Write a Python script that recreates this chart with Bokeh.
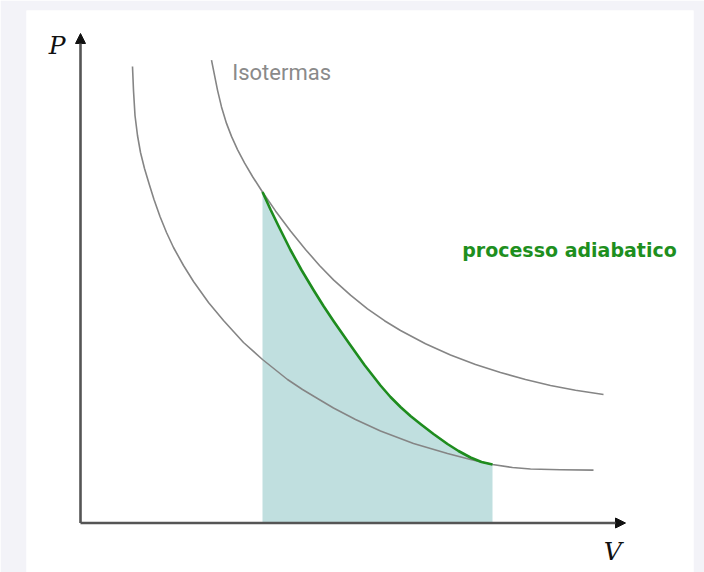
from bokeh.plotting import figure
from bokeh.models import Range1d, Arrow, NormalHead, Label
from bokeh.embed import file_html
from bokeh.resources import INLINE

# ---- data (arbitrary V/P units) ----
iso_low_V = [5.2, 5.3, 5.45, 5.7, 6.0, 6.4, 6.85, 7.35, 7.95, 8.6, 9.3, 10.3, 11.3, 12.8,
             14.3, 16.3, 18.2, 20.7, 22.2, 23.7, 25.3, 27.5, 30.0, 33.3, 36.7, 39.0, 41.2,
             43.2, 45.0, 48.0, 51.3]
iso_low_P = [45.65, 43.25, 40.75, 38.75, 37.05, 35.45, 33.95, 32.35, 30.65, 29.05, 27.55,
             25.75, 24.15, 22.05, 20.25, 18.05, 16.35, 14.35, 13.35, 12.45, 11.5, 10.35,
             9.2, 7.95, 6.95, 6.35, 5.85, 5.55, 5.4, 5.32, 5.29]

iso_high_V = [13.1, 13.4, 13.7, 14.1, 14.6, 15.1, 15.7, 16.4, 17.2, 18.2, 19.5, 21.0, 22.5,
              23.9, 25.3, 27.0, 28.7, 30.4, 32.0, 34.5, 37.0, 39.5, 42.0, 44.5, 47.0, 49.5,
              52.3]
iso_high_P = [46.29, 44.79, 43.29, 41.61, 39.96, 38.66, 37.34, 36.01, 34.65, 33.1, 31.21,
              29.19, 27.36, 25.75, 24.31, 22.78, 21.42, 20.23, 19.25, 17.92, 16.8, 15.85,
              15.05, 14.35, 13.75, 13.27, 12.85]

adiab_V = [18.2, 19.0, 19.8, 21.0, 22.1, 23.3, 24.3, 25.3, 26.8, 28.4, 30.0, 31.0, 32.0,
           33.0, 34.0, 35.3, 36.7, 37.8, 39.0, 40.1, 41.2]
adiab_P = [33.1, 31.35, 29.7, 27.3, 25.3, 23.3, 21.7, 20.2, 18.05, 15.8, 13.75, 12.6,
           11.6, 10.7, 9.9, 8.9, 7.9, 7.2, 6.55, 6.1, 5.85]

base_P = [0.0] * len(adiab_V)

axis_V_end = 54.5
axis_P_end = 48.95

label_iso = "Isotermas"
label_adiab = "processo adiabatico"
label_P = "P"
label_V = "V"

# ---- figure ----
p = figure(width=704, height=572, output_backend="svg", toolbar_location=None,
           x_axis_location=None, y_axis_location=None,
           x_range=Range1d(-5.4, 61.3), y_range=Range1d(-4.95, 51.25),
           min_border_left=26, min_border_right=11, min_border_top=10, min_border_bottom=0)
p.grid.visible = False
p.outline_line_color = None
p.background_fill_color = "white"
p.border_fill_color = "#f3f3f8"

# shaded work area
p.varea(x=adiab_V, y1=base_P, y2=adiab_P, fill_color="#c0dfdf", fill_alpha=1.0)

# isotherms
p.line(iso_low_V, iso_low_P, line_color="#858585", line_width=1.6, line_join="round")
p.line(iso_high_V, iso_high_P, line_color="#858585", line_width=1.6, line_join="round")

# adiabat
p.line(adiab_V, adiab_P, line_color="#1e8c1e", line_width=2.6, line_join="round")

# axes with arrows
p.add_layout(Arrow(x_start=0, y_start=0, x_end=axis_V_end, y_end=0,
                   line_color="#555555", line_width=2.6,
                   end=NormalHead(size=10, fill_color="#111111", line_color="#111111")))
p.add_layout(Arrow(x_start=0, y_start=0, x_end=0, y_end=axis_P_end,
                   line_color="#555555", line_width=2.6,
                   end=NormalHead(size=10, fill_color="#111111", line_color="#111111")))

# labels
p.add_layout(Label(x=15.17, y=45.02, text=label_iso, text_font="Roboto",
                   text_font_size="22px", text_color="#8a8a8a", text_baseline="alphabetic"))
p.add_layout(Label(x=38.17, y=27.35, text=label_adiab, text_font="DejaVu Sans",
                   text_font_style="bold", text_font_size="19px", text_color="#1e8f1e",
                   text_baseline="alphabetic"))
p.add_layout(Label(x=-3.17, y=47.72, text=label_P, text_font="DejaVu Serif",
                   text_font_style="italic", text_font_size="25px", text_color="#111111",
                   text_baseline="alphabetic"))
p.add_layout(Label(x=52.33, y=-2.85, text=label_V, text_font="DejaVu Serif",
                   text_font_style="italic", text_font_size="25px", text_color="#111111",
                   text_baseline="alphabetic"))

open("out.html", "w").write(file_html(p, INLINE))
